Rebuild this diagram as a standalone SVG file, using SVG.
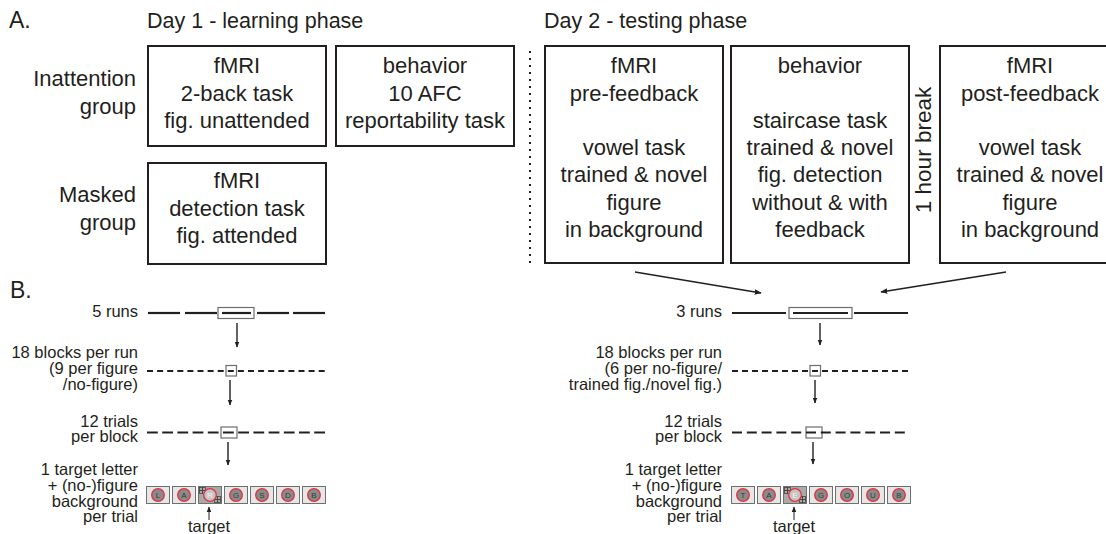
<svg xmlns="http://www.w3.org/2000/svg" width="1106" height="534" viewBox="0 0 1106 534">
<defs>
<style>
text{font-family:"Liberation Sans",Arial,sans-serif;fill:#231f20}
.big{font-size:23px}
.day{font-size:21.5px}
.bt{font-size:22px;text-anchor:middle}
.gl{font-size:22px;text-anchor:end}
.sl{font-size:16.5px;text-anchor:end}
.box{fill:#fff;stroke:#231f20;stroke-width:2}
.run{stroke:#231f20;stroke-width:2.2;fill:none}
.sel{fill:#fff;stroke:#6d6d6d;stroke-width:1.2}
.arr{stroke:#231f20;stroke-width:1.4;fill:none}
.tb{fill:#e6e6e6;stroke:#707070;stroke-width:1}
.tbt{fill:#a9a9a9;stroke:#707070;stroke-width:1}
.c{fill:#8a8a8a;stroke:#e2313c;stroke-width:1.3}
.ct{fill:#c4c4c4;stroke:#e2313c;stroke-width:1.3}
.lt{font-size:8px;text-anchor:middle;fill:#3a3a3a}
.ltt{font-size:8px;text-anchor:middle;fill:#f4f4f4}
.ck{fill:none;stroke:#444;stroke-width:0.8}
</style>
<marker id="ah" viewBox="0 0 10 10" refX="9" refY="5" markerWidth="7" markerHeight="7" markerUnits="userSpaceOnUse" orient="auto">
<path d="M0,1 L10,5 L0,9 Z" fill="#231f20"/>
</marker>
<marker id="ahs" viewBox="0 0 10 10" refX="9" refY="5" markerWidth="6" markerHeight="6" markerUnits="userSpaceOnUse" orient="auto">
<path d="M0,1 L10,5 L0,9 Z" fill="#231f20"/>
</marker>
<g id="chk">
<rect class="ck" x="0" y="0" width="3" height="3"/><rect class="ck" x="3" y="0" width="3" height="3"/>
<rect class="ck" x="0" y="3" width="3" height="3"/><rect class="ck" x="3" y="3" width="3" height="3"/>
</g>
</defs>
<rect width="1106" height="534" fill="#fff"/>

<text class="big" x="9" y="28">A.</text>
<text class="day" x="147" y="28">Day 1 - learning phase</text>
<text class="day" x="544" y="28">Day 2 - testing phase</text>
<text class="big" x="10" y="298">B.</text>

<g id="group-labels">
<text class="gl" x="136" y="86">Inattention</text>
<text class="gl" x="136" y="114">group</text>
<text class="gl" x="136" y="202">Masked</text>
<text class="gl" x="136" y="230">group</text>
</g>

<g id="box-d1-fmri">
<rect class="box" x="148" y="46" width="178" height="100"/>
<text class="bt" x="237" y="73">fMRI</text>
<text class="bt" x="237" y="100.5">2-back task</text>
<text class="bt" x="237" y="128">fig. unattended</text>
</g>
<g id="box-d1-behavior">
<rect class="box" x="336" y="46" width="178" height="100"/>
<text class="bt" x="425" y="73">behavior</text>
<text class="bt" x="425" y="100.5">10 AFC</text>
<text class="bt" x="425" y="128">reportability task</text>
</g>
<g id="box-d1-masked">
<rect class="box" x="148" y="163" width="178" height="101"/>
<text class="bt" x="237" y="188">fMRI</text>
<text class="bt" x="237" y="215.5">detection task</text>
<text class="bt" x="237" y="243">fig. attended</text>
</g>

<line x1="530" y1="51" x2="530" y2="264" stroke="#231f20" stroke-width="2" stroke-dasharray="2 5"/>

<g id="box-d2-pre">
<rect class="box" x="545" y="46" width="178" height="217"/>
<text class="bt" x="634" y="73">fMRI</text>
<text class="bt" x="634" y="100.5">pre-feedback</text>
<text class="bt" x="634" y="155">vowel task</text>
<text class="bt" x="634" y="182">trained &amp; novel</text>
<text class="bt" x="634" y="209.5">figure</text>
<text class="bt" x="634" y="237">in background</text>
</g>
<g id="box-d2-behavior">
<rect class="box" x="731" y="46" width="178" height="217"/>
<text class="bt" x="820" y="73">behavior</text>
<text class="bt" x="820" y="128">staircase task</text>
<text class="bt" x="820" y="155">trained &amp; novel</text>
<text class="bt" x="820" y="182">fig. detection</text>
<text class="bt" x="820" y="209.5">without &amp; with</text>
<text class="bt" x="820" y="237">feedback</text>
</g>
<text x="931" y="150" transform="rotate(-90 931 150)" style="font-size:22.5px;text-anchor:middle">1 hour break</text>
<g id="box-d2-post">
<rect class="box" x="940" y="46" width="179" height="217"/>
<text class="bt" x="1030" y="73">fMRI</text>
<text class="bt" x="1030" y="100.5">post-feedback</text>
<text class="bt" x="1030" y="155">vowel task</text>
<text class="bt" x="1030" y="182">trained &amp; novel</text>
<text class="bt" x="1030" y="209.5">figure</text>
<text class="bt" x="1030" y="237">in background</text>
</g>

<g id="connectors">
<line class="arr" x1="635" y1="272" x2="761" y2="293" marker-end="url(#ah)"/>
<line class="arr" x1="1006" y1="272" x2="881" y2="292" marker-end="url(#ah)"/>
<line class="arr" x1="237" y1="323" x2="237" y2="347" marker-end="url(#ahs)"/>
<line class="arr" x1="230" y1="380" x2="230" y2="405" marker-end="url(#ahs)"/>
<line class="arr" x1="228" y1="442" x2="228" y2="465" marker-end="url(#ahs)"/>
<line class="arr" x1="820" y1="323" x2="820" y2="345" marker-end="url(#ahs)"/>
<line class="arr" x1="815" y1="380" x2="815" y2="403" marker-end="url(#ahs)"/>
<line class="arr" x1="813" y1="442" x2="813" y2="464" marker-end="url(#ahs)"/>
<line stroke="#231f20" stroke-width="1" x1="209" y1="520" x2="209" y2="507" marker-end="url(#ahs)"/>
<line stroke="#231f20" stroke-width="1" x1="794" y1="520" x2="794" y2="507" marker-end="url(#ahs)"/>
</g>

<g id="timeline-day1">
<text class="sl" x="138" y="317">5 runs</text>
<rect class="sel" x="218" y="307.5" width="36" height="11"/>
<line class="run" x1="148" y1="313" x2="180" y2="313"/>
<line class="run" x1="185" y1="313" x2="217" y2="313"/>
<line class="run" x1="222" y1="313" x2="251" y2="313"/>
<line class="run" x1="257" y1="313" x2="289" y2="313"/>
<line class="run" x1="293" y1="313" x2="325" y2="313"/>

<text class="sl" x="138" y="358">18 blocks per run</text>
<text class="sl" x="138" y="374">(9 per figure</text>
<text class="sl" x="138" y="390">/no-figure)</text>
<rect class="sel" x="226" y="365.5" width="10.5" height="10.5"/>
<line class="run" x1="147" y1="371" x2="325" y2="371" stroke-dasharray="6 4.1"/>

<text class="sl" x="138" y="427">12 trials</text>
<text class="sl" x="138" y="442">per block</text>
<rect class="sel" x="221" y="427" width="16" height="11"/>
<line class="run" x1="147" y1="432.5" x2="325" y2="432.5" stroke-dasharray="10.8 4.4" stroke-width="2.6"/>

<text class="sl" x="138" y="475">1 target letter</text>
<text class="sl" x="138" y="491">+ (no-)figure</text>
<text class="sl" x="138" y="507">background</text>
<text class="sl" x="138" y="522">per trial</text>

<rect class="tb" x="146.5" y="486.5" width="23" height="17"/><circle class="c" cx="158" cy="495" r="6.3"/><text class="lt" x="158" y="498">L</text>
<rect class="tb" x="172.5" y="486.5" width="23" height="17"/><circle class="c" cx="184" cy="495" r="6.3"/><text class="lt" x="184" y="498">A</text>
<rect class="tbt" x="198.5" y="486.5" width="23" height="17"/><use href="#chk" x="199.5" y="487.5"/><use href="#chk" x="214.5" y="496.5"/><circle class="ct" cx="210" cy="495" r="6.3"/><text class="ltt" x="210" y="498">R</text>
<rect class="tb" x="224.5" y="486.5" width="23" height="17"/><circle class="c" cx="236" cy="495" r="6.3"/><text class="lt" x="236" y="498">G</text>
<rect class="tb" x="250.5" y="486.5" width="23" height="17"/><circle class="c" cx="262" cy="495" r="6.3"/><text class="lt" x="262" y="498">S</text>
<rect class="tb" x="276.5" y="486.5" width="23" height="17"/><circle class="c" cx="288" cy="495" r="6.3"/><text class="lt" x="288" y="498">D</text>
<rect class="tb" x="302.5" y="486.5" width="23" height="17"/><circle class="c" cx="314" cy="495" r="6.3"/><text class="lt" x="314" y="498">B</text>
<text x="209" y="532" style="font-size:16.5px;text-anchor:middle">target</text>
</g>

<g id="timeline-day2">
<text class="sl" x="722" y="317">3 runs</text>
<rect class="sel" x="789" y="307.5" width="63" height="11"/>
<line class="run" x1="732" y1="313" x2="786" y2="313"/>
<line class="run" x1="793" y1="313" x2="848" y2="313"/>
<line class="run" x1="854" y1="313" x2="908" y2="313"/>

<text class="sl" x="722" y="358">18 blocks per run</text>
<text class="sl" x="722" y="374">(6 per no-figure/</text>
<text class="sl" x="722" y="390">trained fig./novel fig.)</text>
<rect class="sel" x="810" y="365.5" width="10.5" height="10.5"/>
<line class="run" x1="732" y1="371" x2="908" y2="371" stroke-dasharray="6 4"/>

<text class="sl" x="722" y="427">12 trials</text>
<text class="sl" x="722" y="442">per block</text>
<rect class="sel" x="806" y="427" width="16" height="11"/>
<line class="run" x1="732" y1="432.5" x2="905" y2="432.5" stroke-dasharray="10 4.8" stroke-width="2.6"/>

<text class="sl" x="722" y="475">1 target letter</text>
<text class="sl" x="722" y="491">+ (no-)figure</text>
<text class="sl" x="722" y="507">background</text>
<text class="sl" x="722" y="522">per trial</text>

<rect class="tb" x="731.5" y="486.5" width="23" height="17"/><circle class="c" cx="743" cy="495" r="6.3"/><text class="lt" x="743" y="498">T</text>
<rect class="tb" x="757.5" y="486.5" width="23" height="17"/><circle class="c" cx="769" cy="495" r="6.3"/><text class="lt" x="769" y="498">A</text>
<rect class="tbt" x="783.5" y="486.5" width="23" height="17"/><use href="#chk" x="784.5" y="487.5"/><use href="#chk" x="799.5" y="496.5"/><circle class="ct" cx="795" cy="495" r="6.3"/><text class="ltt" x="795" y="498">E</text>
<rect class="tb" x="809.5" y="486.5" width="23" height="17"/><circle class="c" cx="821" cy="495" r="6.3"/><text class="lt" x="821" y="498">G</text>
<rect class="tb" x="835.5" y="486.5" width="23" height="17"/><circle class="c" cx="847" cy="495" r="6.3"/><text class="lt" x="847" y="498">O</text>
<rect class="tb" x="861.5" y="486.5" width="23" height="17"/><circle class="c" cx="873" cy="495" r="6.3"/><text class="lt" x="873" y="498">U</text>
<rect class="tb" x="887.5" y="486.5" width="23" height="17"/><circle class="c" cx="899" cy="495" r="6.3"/><text class="lt" x="899" y="498">B</text>
<text x="794" y="532" style="font-size:16.5px;text-anchor:middle">target</text>
</g>
</svg>
